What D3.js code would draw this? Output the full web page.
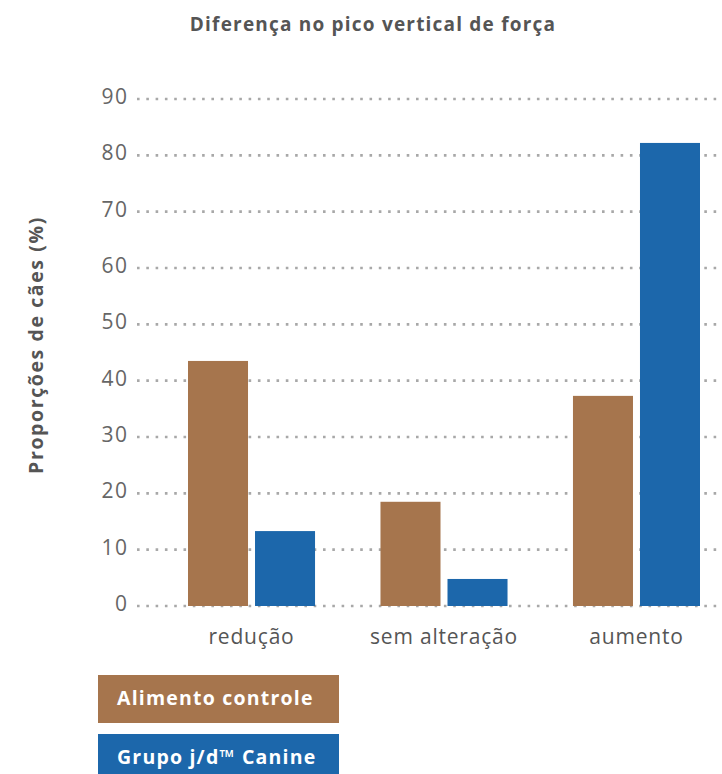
<!DOCTYPE html>
<html>
<head>
<meta charset="utf-8">
<script src="https://cdn.jsdelivr.net/npm/d3@7"></script>
<style>
  html, body { margin: 0; padding: 0; background: #fff; }
  svg { display: block; }
</style>
</head>
<body>
<svg id="chart" width="722" height="774"></svg>
<script>
const categories = ["redução", "sem alteração", "aumento"];
const seriesNames = ["Alimento controle", "Grupo j/d™ Canine"];
const controleValues = [43.5, 18.5, 37.3];
const jdValues = [13.3, 4.8, 82.2];
const yTicks = [0, 10, 20, 30, 40, 50, 60, 70, 80, 90];
const colors = ["#A6754D", "#1C67AB"];

const svg = d3.select("#chart");
const fontMain = "'Open Sans', sans-serif";

const y = d3.scaleLinear().domain([0, 90]).range([606, 99]);
const x = d3.scaleBand().domain(categories).range([188, 700]).paddingInner(0.34).paddingOuter(0);
const xSub = d3.scaleBand().domain(seriesNames).range([0, x.bandwidth()]).paddingInner(0.1045).paddingOuter(0);

// Title
svg.append("text")
  .attr("x", 373).attr("y", 31)
  .attr("text-anchor", "middle")
  .attr("font-family", fontMain)
  .attr("font-weight", 700)
  .attr("font-size", 19)
  .attr("letter-spacing", 1.2)
  .attr("fill", "#555")
  .text("Diferença no pico vertical de força");

// Y axis title
svg.append("text")
  .attr("transform", "translate(43,345) rotate(-90)")
  .attr("text-anchor", "middle")
  .attr("font-family", fontMain)
  .attr("font-weight", 700)
  .attr("font-size", 19.5)
  .attr("letter-spacing", 1.6)
  .attr("fill", "#555")
  .text("Proporções de cães (%)");

// Ticks via axis
const yAxis = d3.axisLeft(y).tickValues(yTicks).tickSize(0).tickPadding(0);
const gAxis = svg.append("g").attr("transform", "translate(128.5,0)").call(yAxis);
gAxis.select(".domain").remove();
gAxis.selectAll("text")
  .attr("x", 0)
  .attr("dy", "0.0em")
  .attr("y", -1)
  .attr("font-family", fontMain)
  .attr("font-size", 21)
  .attr("letter-spacing", 1.5)
  .attr("fill", "#666")
  .attr("text-anchor", "end")
  .attr("dominant-baseline", "middle");

// Dotted grid
svg.append("g").selectAll("line")
  .data(yTicks)
  .join("line")
  .attr("x1", 137)
  .attr("x2", 722)
  .attr("y1", d => y(d))
  .attr("y2", d => y(d))
  .attr("stroke", "#a8a8a8")
  .attr("stroke-width", 2.6)
  .attr("stroke-dasharray", "2.6,6.7");

// Bars
const rows = categories.map((c, i) => ({ cat: c, vals: [controleValues[i], jdValues[i]] }));
const groups = svg.append("g").selectAll("g")
  .data(rows)
  .join("g")
  .attr("transform", d => `translate(${x(d.cat)},0)`);

groups.selectAll("rect")
  .data(d => d.vals.map((v, j) => ({ name: seriesNames[j], v, j })))
  .join("rect")
  .attr("x", d => xSub(d.name))
  .attr("width", xSub.bandwidth())
  .attr("y", d => y(d.v))
  .attr("height", d => y(0) - y(d.v))
  .attr("fill", d => colors[d.j]);

// Category labels
svg.append("g").selectAll("text")
  .data(categories)
  .join("text")
  .attr("x", d => x(d) + x.bandwidth() / 2)
  .attr("y", 644)
  .attr("text-anchor", "middle")
  .attr("font-family", fontMain)
  .attr("font-size", 21)
  .attr("letter-spacing", 0.8)
  .attr("fill", "#555")
  .text(d => d);

// Legend
const legend = svg.append("g").selectAll("g")
  .data(seriesNames)
  .join("g")
  .attr("transform", (d, i) => `translate(98,${675 + i * 59})`);

legend.append("rect")
  .attr("width", 241)
  .attr("height", 48)
  .attr("fill", (d, i) => colors[i]);

legend.append("text")
  .attr("x", 19)
  .attr("y", 30)
  .attr("font-family", fontMain)
  .attr("font-weight", 700)
  .attr("font-size", 19.5)
  .attr("letter-spacing", 1.2)
  .attr("fill", "#fff")
  .text(d => d);
</script>
</body>
</html>
